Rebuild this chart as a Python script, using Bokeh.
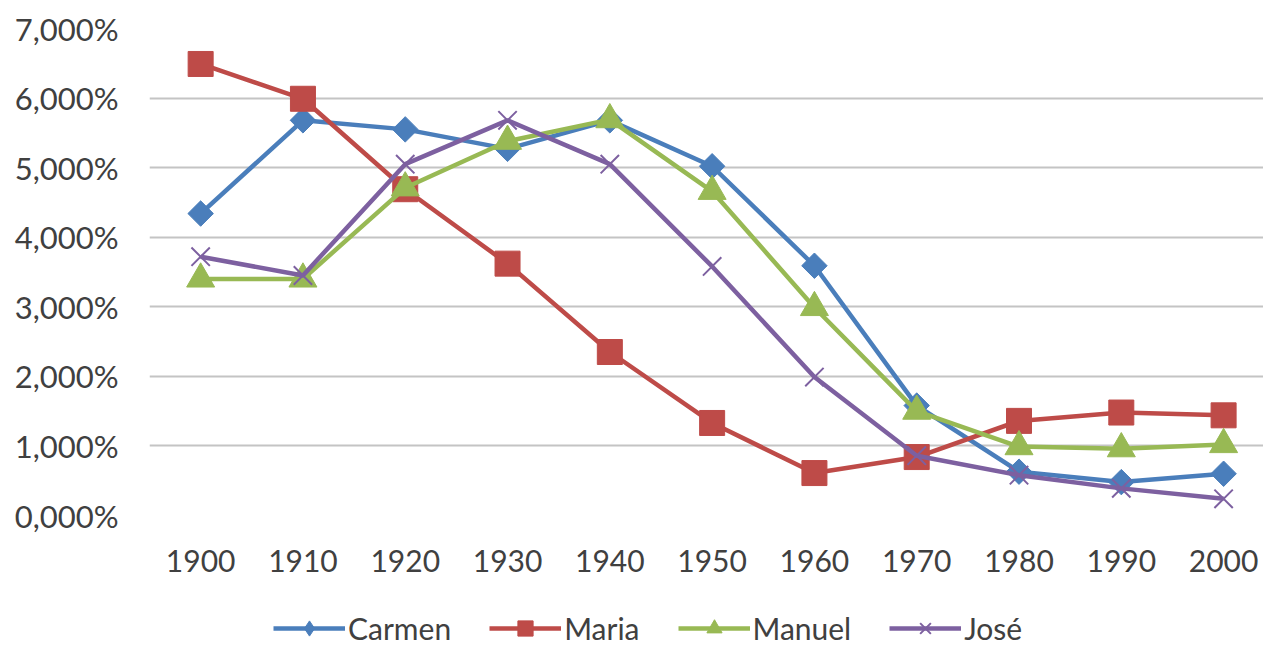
import numpy as np
from bokeh.plotting import figure
from bokeh.layouts import column
from bokeh.models import (Range1d, FixedTicker, CustomJSTickFormatter, Legend, LegendItem)
from bokeh.embed import file_html
from bokeh.resources import INLINE

years = [1900, 1910, 1920, 1930, 1940, 1950, 1960, 1970, 1980, 1990, 2000]
carmen = [4.34, 5.68, 5.55, 5.27, 5.68, 5.02, 3.59, 1.58, 0.63, 0.48, 0.60]
maria = [6.49, 5.99, 4.69, 3.62, 2.35, 1.33, 0.61, 0.84, 1.36, 1.48, 1.44]
manuel = [3.40, 3.40, 4.71, 5.38, 5.69, 4.66, 2.99, 1.50, 0.99, 0.96, 1.02]
jose = [3.72, 3.45, 5.05, 5.68, 5.05, 3.58, 1.99, 0.86, 0.58, 0.39, 0.24]
names = ["Carmen", "Maria", "Manuel", "José"]
y_ticks = [0, 1, 2, 3, 4, 5, 6, 7]

FONT = "Lato"
TXT = "#404040"

p = figure(frame_width=1114, frame_height=487, output_backend="svg", toolbar_location=None,
           x_range=Range1d(1895, 2003.9), y_range=Range1d(0, 7),
           min_border_left=149, min_border_right=0, min_border_top=28, min_border_bottom=84)
p.outline_line_color = None
p.background_fill_color = "white"
p.border_fill_color = "white"

p.xgrid.grid_line_color = None
p.ygrid.grid_line_color = "#C4C4C4"
p.ygrid.grid_line_width = 2
p.ygrid.ticker = FixedTicker(ticks=y_ticks)

p.yaxis.ticker = FixedTicker(ticks=y_ticks)
p.yaxis.formatter = CustomJSTickFormatter(code="return tick.toFixed(3).replace('.', ',') + '%';")
p.xaxis.ticker = FixedTicker(ticks=years)
for ax in (p.xaxis[0], p.yaxis[0]):
    ax.axis_line_color = None
    ax.major_tick_line_color = None
    ax.minor_tick_line_color = None
    ax.major_label_text_font = FONT
    ax.major_label_text_color = TXT
p.xaxis.major_label_text_font_size = "30px"
p.yaxis.major_label_text_font_size = "31px"
p.yaxis.major_label_standoff = 25
p.xaxis.major_label_standoff = 28

# (colour, chart marker, size, angle, legend marker)
styles = [
    ("#4A7EBB", "square", 18, np.pi / 4, "diamond"),
    ("#BE4B48", "square", 25, 0, "square"),
    ("#98B954", "triangle", 28, 0, "triangle"),
    ("#7D60A0", "x", 26, 0, "x"),
]
series = [carmen, maria, manuel, jose]

# legend strip (separate figure so the legend can sit below the axis labels)
lg = figure(width=1263, height=48, output_backend="svg", toolbar_location=None,
            x_axis_type=None, y_axis_type=None, min_border=0,
            x_range=Range1d(0, 1), y_range=Range1d(0, 1))
lg.outline_line_color = None
lg.xgrid.grid_line_color = None
lg.ygrid.grid_line_color = None

blank = np.array([np.nan])
items = []
for name, vals, (col, mk, sz, ang, lmk) in zip(names, series, styles):
    p.line(years, vals, line_color=col, line_width=4.5)
    if mk == "x":
        p.scatter(years, vals, marker=mk, size=sz, line_color=col, line_width=2)
    else:
        p.scatter(years, vals, marker=mk, size=sz, angle=ang, fill_color=col, line_color=col)
    # legend sample renderers (no visible data; only their styles are shown in the legend)
    l2 = lg.line(blank, blank, line_color=col, line_width=4.5)
    if lmk == "x":
        s2 = lg.scatter(blank, blank, marker=lmk, size=sz, line_color=col, line_width=2)
    else:
        s2 = lg.scatter(blank, blank, marker=lmk, size=sz, fill_color=col, line_color=col)
    items.append(LegendItem(label=name, renderers=[l2, s2]))

legend = Legend(items=items, orientation="horizontal", location=(124, 0),
                label_text_font=FONT, label_text_font_size="30px", label_text_color=TXT,
                glyph_width=72, glyph_height=38, spacing=38, label_standoff=3,
                padding=0, margin=0, border_line_color=None, background_fill_alpha=0)
lg.add_layout(legend, "center")

layout = column(p, lg, spacing=0)
open("out.html", "w").write(file_html(layout, INLINE))
